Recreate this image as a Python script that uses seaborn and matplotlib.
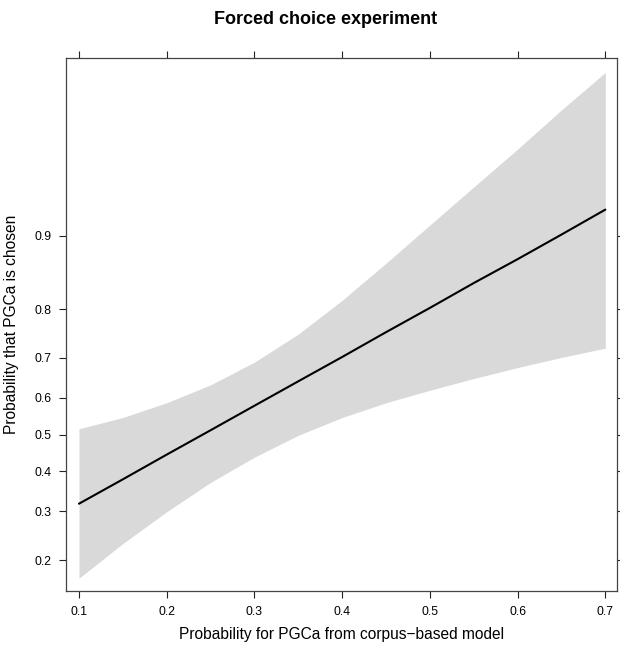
import matplotlib
matplotlib.use("Agg")
import matplotlib.pyplot as plt
from matplotlib.ticker import FixedLocator, FixedFormatter, NullLocator
import seaborn as sns
import pandas as pd

# Data
x_vals = [0.10, 0.15, 0.20, 0.25, 0.30, 0.35, 0.40, 0.45, 0.50, 0.55, 0.60, 0.65, 0.70]
fit_vals = [0.318, 0.379, 0.445, 0.512, 0.579, 0.643, 0.702, 0.756, 0.802, 0.842, 0.874, 0.901, 0.923]
upper_vals = [0.516, 0.547, 0.587, 0.634, 0.690, 0.752, 0.815, 0.869, 0.910, 0.939, 0.959, 0.973, 0.982]
lower_vals = [0.170, 0.231, 0.299, 0.371, 0.438, 0.498, 0.547, 0.587, 0.620, 0.650, 0.677, 0.701, 0.722]
x_ticks = [0.1, 0.2, 0.3, 0.4, 0.5, 0.6, 0.7]
y_ticks = [0.2, 0.3, 0.4, 0.5, 0.6, 0.7, 0.8, 0.9]

df = pd.DataFrame({"x": x_vals, "fit": fit_vals, "lower": lower_vals, "upper": upper_vals})

sns.set_theme(style="white")
plt.rcParams["font.family"] = ["Liberation Sans", "DejaVu Sans"]

fig = plt.figure(figsize=(6.2, 6.46), dpi=100)
ax = fig.add_axes([66 / 620, 1 - 591 / 646, (617 - 66) / 620, (591 - 58) / 646])

ax.fill_between(df["x"], df["lower"], df["upper"], color="#d9d9d9", linewidth=0, zorder=1)
sns.lineplot(data=df, x="x", y="fit", color="black", linewidth=1.5, ax=ax, zorder=2)

ax.set_yscale("logit")
ax.set_xlim(0.0852, 0.7133)
ax.set_ylim(0.151, 0.9846)

ax.xaxis.set_major_locator(FixedLocator(x_ticks))
ax.xaxis.set_major_formatter(FixedFormatter([f"{v:g}" for v in x_ticks]))
ax.xaxis.set_minor_locator(NullLocator())
ax.yaxis.set_major_locator(FixedLocator(y_ticks))
ax.yaxis.set_major_formatter(FixedFormatter([f"{v:g}" for v in y_ticks]))
ax.yaxis.set_minor_locator(NullLocator())

ax.tick_params(axis="both", which="major", direction="out", length=5.3, width=0.8,
               color="#222222", labelsize=8.8, labelcolor="black",
               top=True, right=True, bottom=True, left=True,
               labeltop=False, labelright=False)
ax.tick_params(axis="x", pad=5.5)
ax.tick_params(axis="y", pad=5)

for s in ax.spines.values():
    s.set_visible(True)
    s.set_color("#444444")
    s.set_linewidth(0.9)

ax.grid(False)
ax.set_xlabel("Probability for PGCa from corpus\u2212based model", fontsize=11.2, color="black")
ax.set_ylabel("Probability that PGCa is chosen", fontsize=11.2, color="black")
ax.xaxis.label.set_va("center")
ax.yaxis.label.set_va("center")
ax.yaxis.label.set_ha("center")
ax.xaxis.set_label_coords(0.5, (591 - 635) / 533)
ax.yaxis.set_label_coords((12 - 66) / 551, 0.5)

fig.text(326 / 620, 1 - 19 / 646, "Forced choice experiment", ha="center", va="center",
         fontsize=13.0, fontweight="bold", color="black")

fig.savefig("out.png", dpi=100, facecolor="white")
